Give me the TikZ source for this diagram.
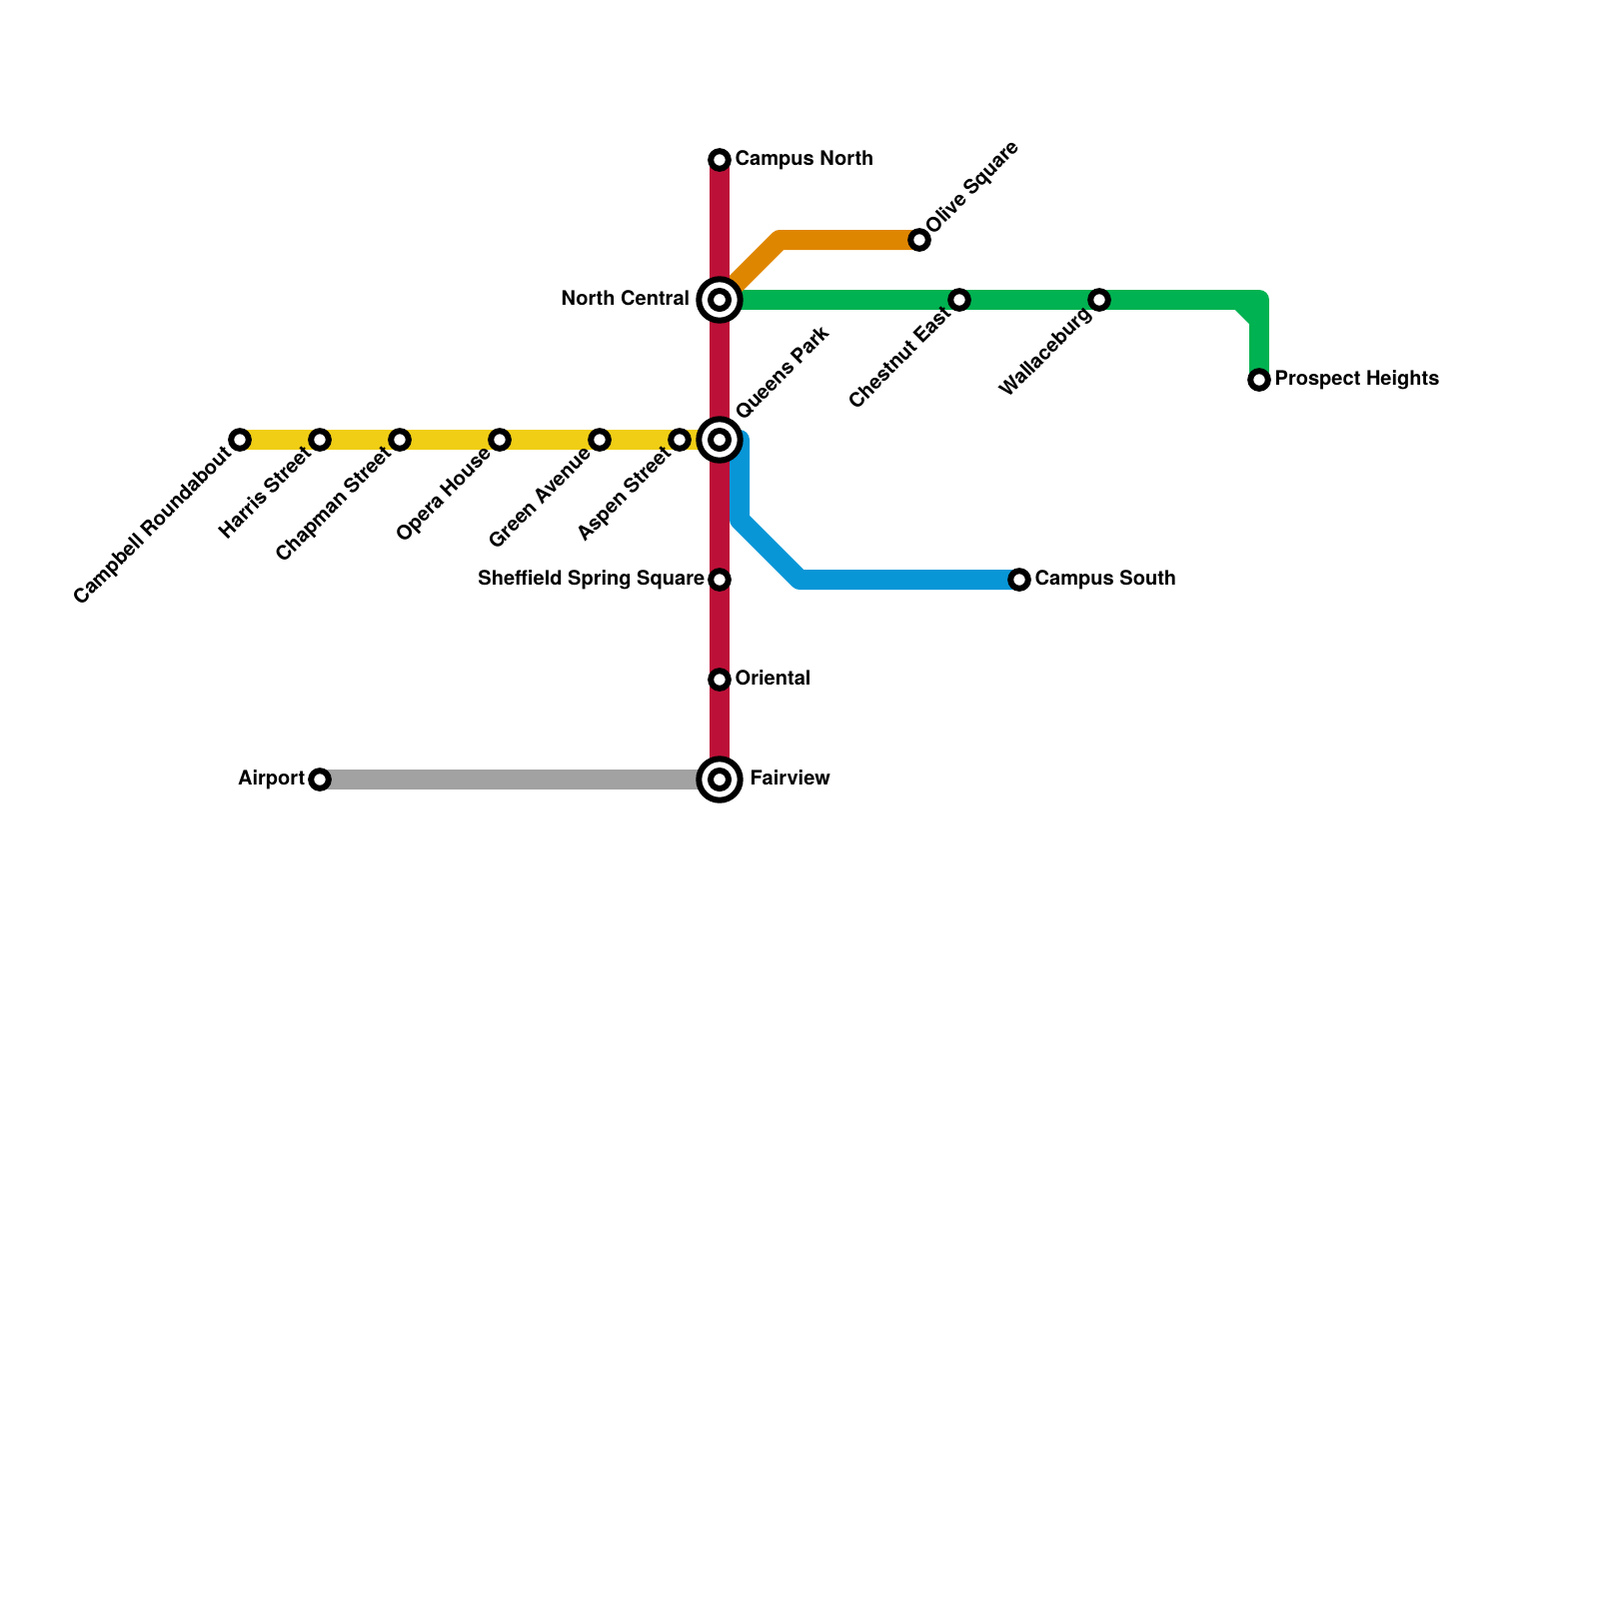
\documentclass[tikz,border=0pt]{standalone}
\usepackage{fontspec}
\setmainfont{TeX Gyre Heros}
\usepackage{xcolor}
\definecolor{redline}{HTML}{BD1038}
\definecolor{orangeline}{HTML}{DF8600}
\definecolor{greenline}{HTML}{00B251}
\definecolor{yellowline}{HTML}{F0CE15}
\definecolor{blueline}{HTML}{0896D7}
\definecolor{greyline}{HTML}{A2A2A2}
\tikzset{
	metro/.style={line width=2mm,line join=round},
	stop/.style={circle,draw=black,fill=white,line width=0.6mm,minimum size=1.76mm,inner sep=0pt},
	hub/.style={circle,draw=black,fill=white,line width=0.6mm,minimum size=4.14mm,inner sep=0pt},
	hubin/.style={circle,draw=black,fill=white,line width=0.6mm,minimum size=1.8mm,inner sep=0pt},
	lbl/.style={inner sep=0pt,font=\fontsize{5.7}{7}\selectfont\bfseries}
}

\begin{document}
\begin{tikzpicture}[x=0.1mm,y=-0.1mm]
	\useasboundingbox (0,0) rectangle (1600,1600);
	% points without a station
	\coordinate (orangebend) at (780,240);
	\coordinate (bluetop) at (740,440);
	\coordinate (bluedown) at (740,520);
	\coordinate (bluebend) at (800,580);
	\coordinate (greencorner) at (1260,300);
	\coordinate (greenchamfer) at (1240,300);
	\coordinate (greenchamferend) at (1260,320);
	\coordinate (northc) at (720,300);
	\coordinate (queensc) at (720,440);
	\coordinate (fairc) at (720,780);
	\coordinate (campusnc) at (720,160);
	\coordinate (olivec) at (920,240);
	\coordinate (campussc) at (1020,580);
	\coordinate (prospectc) at (1260,380);
	\coordinate (campbellc) at (240,440);
	\coordinate (airportc) at (320,780);

	% lines
	\draw[metro,greyline] (airportc) -- (fairc);
	\draw[metro,yellowline] (campbellc) -- (queensc);
	\draw[metro,blueline] (queensc) -- (bluetop) -- (bluedown) -- (bluebend) -- (campussc);
	\draw[metro,greenline] (northc) -- (greencorner) -- (prospectc);
	\draw[metro,greenline] (greenchamfer) -- (greenchamferend);
	\draw[metro,orangeline] (northc) -- (orangebend) -- (olivec);
	\draw[metro,redline] (campusnc) -- (fairc);

	% stations
	\node[stop] (campusn) at (campusnc) {};
	\node[stop] (olive) at (olivec) {};
	\node[hub] (north) at (northc) {};
	\node[hubin] (northin) at (northc) {};
	\node[stop] (chestnut) at (960,300) {};
	\node[stop] (wallace) at (1100,300) {};
	\node[stop] (prospect) at (prospectc) {};
	\node[stop] (campbell) at (campbellc) {};
	\node[stop] (harris) at (320,440) {};
	\node[stop] (chapman) at (400,440) {};
	\node[stop] (opera) at (500,440) {};
	\node[stop] (green) at (600,440) {};
	\node[stop] (aspen) at (680,440) {};
	\node[hub] (queens) at (queensc) {};
	\node[hubin] (queensin) at (queensc) {};
	\node[stop] (sheffield) at (720,580) {};
	\node[stop] (campuss) at (campussc) {};
	\node[stop] (oriental) at (720,680) {};
	\node[stop] (airport) at (airportc) {};
	\node[hub] (fair) at (fairc) {};
	\node[hubin] (fairin) at (fairc) {};

	% labels
	\node[lbl,anchor=base west] (campusnl) at (735,165.5) {Campus North};
	\node[lbl,anchor=base west,rotate=45] (olivel) at (933.5,235.5) {Olive Square};
	\node[lbl,anchor=base east] (northl) at (691,305.5) {North Central};
	\node[lbl,anchor=base east,rotate=45] (chestnutl) at (953,314.5) {Chestnut East};
	\node[lbl,anchor=base east,rotate=45] (wallacel) at (1093,314.5) {Wallaceburg};
	\node[lbl,anchor=base west] (prospectl) at (1275,385.5) {Prospect Heights};
	\node[lbl,anchor=base west,rotate=45] (queensl) at (743.5,421.5) {Queens Park};
	\node[lbl,anchor=base east,rotate=45] (campbelll) at (233,454.5) {Campbell Roundabout};
	\node[lbl,anchor=base east,rotate=45] (harrisl) at (313,454.5) {Harris Street};
	\node[lbl,anchor=base east,rotate=45] (chapmanl) at (393,454.5) {Chapman Street};
	\node[lbl,anchor=base east,rotate=45] (operal) at (493,454.5) {Opera House};
	\node[lbl,anchor=base east,rotate=45] (greenl) at (593,454.5) {Green Avenue};
	\node[lbl,anchor=base east,rotate=45] (aspenl) at (673,454.5) {Aspen Street};
	\node[lbl,anchor=base east] (sheffieldl) at (706,585.5) {Sheffield Spring Square};
	\node[lbl,anchor=base west] (campussl) at (1035,585.5) {Campus South};
	\node[lbl,anchor=base west] (orientall) at (735,685.5) {Oriental};
	\node[lbl,anchor=base east] (airportl) at (306,785.5) {Airport};
	\node[lbl,anchor=base west] (fairl) at (750,785.5) {Fairview};
\end{tikzpicture}
\end{document}
